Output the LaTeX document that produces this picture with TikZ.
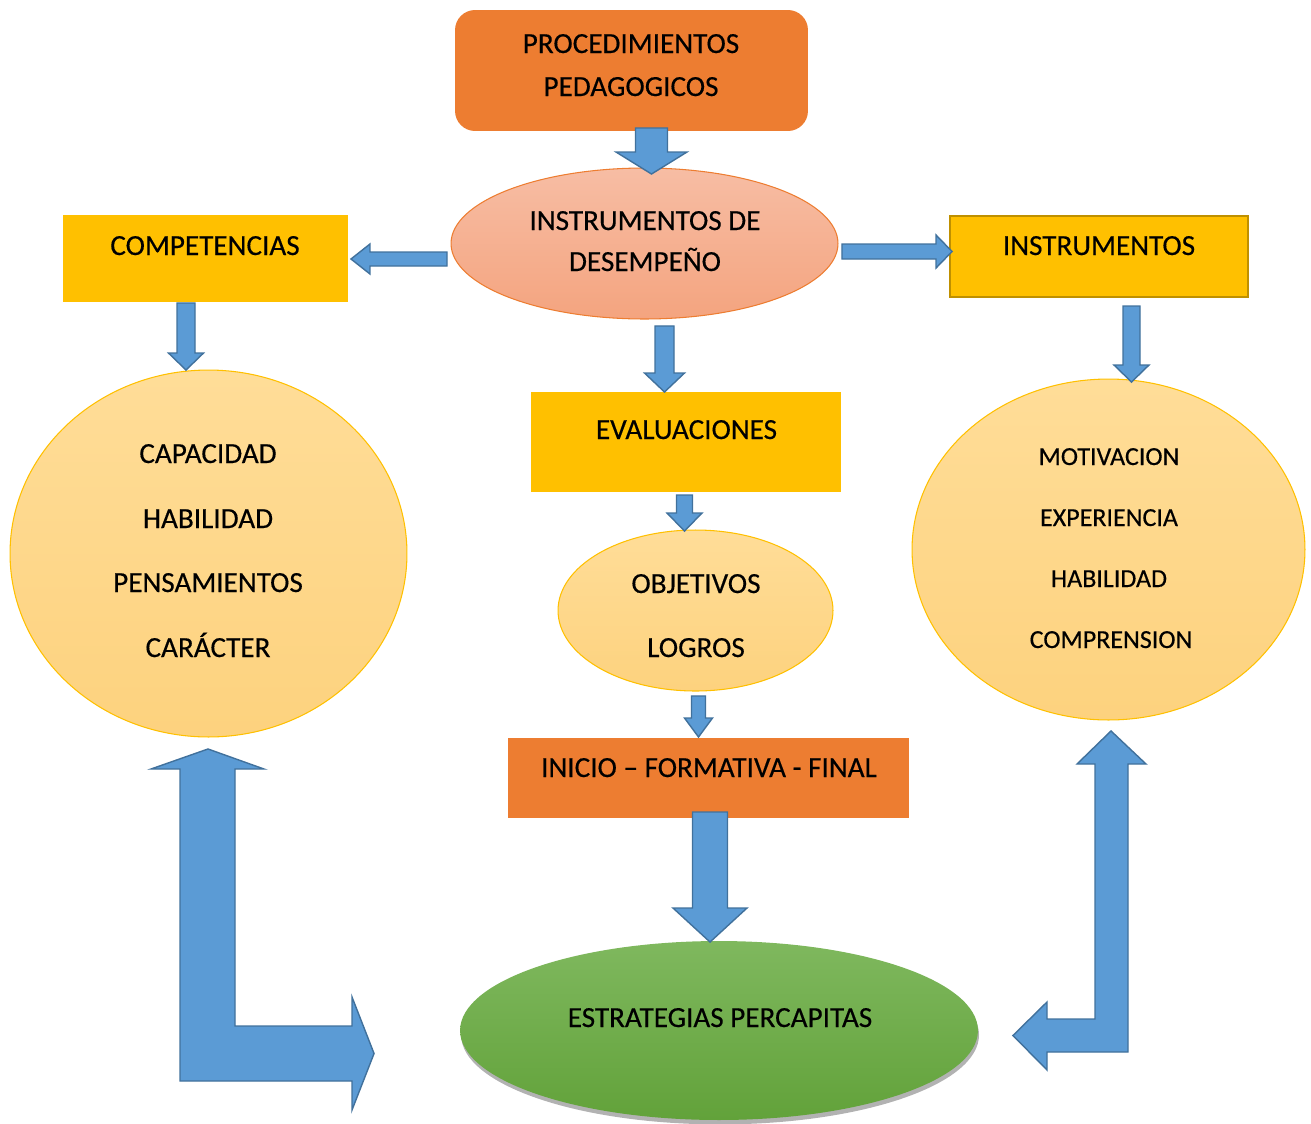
\documentclass[tikz,border=0pt]{standalone}
\usepackage{fontspec}
\setmainfont{Carlito}
\newfontfamily\lblfont[FakeBold=0.35]{Carlito}
\usetikzlibrary{shapes.geometric,calc,shadows}
\def\upx{0.569055pt}
\definecolor{orng}{HTML}{ED7D31}
\definecolor{gold}{HTML}{FFC000}
\definecolor{goldline}{HTML}{BF9000}
\definecolor{salTop}{HTML}{F7BDA4}
\definecolor{salBot}{HTML}{F4A47F}
\definecolor{ltTop}{HTML}{FFDD98}
\definecolor{ltBot}{HTML}{FDD27E}
\definecolor{grTop}{HTML}{7FB85E}
\definecolor{grBot}{HTML}{62A23A}
\definecolor{arrFill}{HTML}{5B9BD5}
\definecolor{arrDraw}{HTML}{41719C}
% block arrow: tail, tip, half shaft, half head, head length (px)
\newcommand\barrow[5]{%
  \coordinate (ba-n) at ($(#2)!{#5*\upx}!(#1)$);
  \path[blockarrow] ($(#1)!{#3*\upx}!90:(#2)$) -- ($(ba-n)!{#3*\upx}!90:(#2)$)
    -- ($(ba-n)!{#4*\upx}!90:(#2)$) -- (#2) -- ($(ba-n)!{#4*\upx}!-90:(#2)$)
    -- ($(ba-n)!{#3*\upx}!-90:(#2)$) -- ($(#1)!{#3*\upx}!-90:(#2)$) -- cycle;}
\begin{document}
\begin{tikzpicture}[x=0.02cm,y=-0.02cm,
  lbl/.style={font=\lblfont\fontsize{16.6}{19}\selectfont, anchor=base, inner sep=0pt, text=black},
  lblsm/.style={font=\lblfont\fontsize{14.8}{17}\selectfont, anchor=base, inner sep=0pt, text=black},
  shp/.style={inner sep=0pt, outer sep=0pt},
  orangebox/.style={shp, rectangle, fill=orng},
  goldbox/.style={shp, rectangle, fill=gold},
  salmonell/.style={shp, ellipse, top color=salTop, bottom color=salBot, draw=orng, line width=0.6pt},
  lightell/.style={shp, ellipse, top color=ltTop, bottom color=ltBot, draw=gold, line width=0.6pt},
  greenell/.style={shp, ellipse, top color=grTop, bottom color=grBot,
     drop shadow={shadow xshift=0.6pt, shadow yshift=-2.5pt, opacity=0.3, fill=black}},
  blockarrow/.style={fill=arrFill, draw=arrDraw, line width=0.8pt, line join=miter}]
\useasboundingbox (0,0) rectangle (1311,1123);

% shapes
\node[orangebox, rounded corners=11.4pt, minimum width={353*\upx}, minimum height={121*\upx}] (proc) at (631.5,70.5) {};
\node[salmonell, minimum width={387*\upx}, minimum height={151*\upx}] (desem) at (644.5,243.5) {};
\node[goldbox, minimum width={285*\upx}, minimum height={87*\upx}] (comp) at (205.5,258.5) {};
\node[goldbox, draw=goldline, line width=1.1pt, minimum width={298*\upx}, minimum height={81*\upx}] (inst) at (1099,256.5) {};
\node[lightell, minimum width={397*\upx}, minimum height={367*\upx}] (circL) at (208.5,553.5) {};
\node[lightell, minimum width={393*\upx}, minimum height={341*\upx}] (circR) at (1108.5,549.5) {};
\node[goldbox, minimum width={310*\upx}, minimum height={100*\upx}] (eval) at (686,442) {};
\node[lightell, minimum width={275*\upx}, minimum height={161*\upx}] (obj) at (695.5,610.5) {};
\node[orangebox, minimum width={401*\upx}, minimum height={80*\upx}] (ini) at (708.5,778) {};
\node[greenell, minimum width={518*\upx}, minimum height={179*\upx}] (estr) at (719,1030.5) {};

% texts
\node[lbl] (tproc1) at (631,53) {PROCEDIMIENTOS};
\node[lbl] (tproc2) at (631,96) {PEDAGOGICOS};
\node[lbl] (tdes1) at (645,230) {INSTRUMENTOS DE};
\node[lbl] (tdes2) at (645,271) {DESEMPEÑO};
\node[lbl] (tcomp) at (205,255) {COMPETENCIAS};
\node[lbl] (tinst) at (1099,255) {INSTRUMENTOS};
\node[lbl] (tL1) at (208,463) {CAPACIDAD};
\node[lbl] (tL2) at (208,528) {HABILIDAD};
\node[lbl] (tL3) at (208,592) {PENSAMIENTOS};
\node[lbl] (tL4) at (208,657) {CARÁCTER};
\node[lblsm] (tR1) at (1109,465) {MOTIVACION};
\node[lblsm] (tR2) at (1109,526) {EXPERIENCIA};
\node[lblsm] (tR3) at (1109,587) {HABILIDAD};
\node[lblsm] (tR4) at (1111,648) {COMPRENSION};
\node[lbl] (teval) at (686.5,439) {EVALUACIONES};
\node[lbl] (tobj1) at (696,593) {OBJETIVOS};
\node[lbl] (tobj2) at (696,657) {LOGROS};
\node[lbl] (tini) at (709,777) {INICIO – FORMATIVA - FINAL};
\node[lbl] (testr) at (720,1027) {ESTRATEGIAS PERCAPITAS};

% straight block arrows
\coordinate (t1) at ($(proc.south)+(20,-3)$);   \coordinate (h1) at ($(desem.north)+(7,6)$);
\barrow{t1}{h1}{16}{35.5}{22}
\coordinate (t2) at ($(desem.west)+(-4,15.5)$);  \coordinate (h2) at ($(comp.east)+(3,0.5)$);
\barrow{t2}{h2}{7}{15}{19}
\coordinate (t3) at ($(desem.east)+(4,8)$);      \coordinate (h3) at ($(inst.west)+(2,-5)$);
\barrow{t3}{h3}{7.5}{16.5}{16}
\coordinate (t4) at ($(comp.south)+(-19.5,1)$);  \coordinate (h4) at ($(circL.north)+(-22.5,0)$);
\barrow{t4}{h4}{9}{17.5}{17}
\coordinate (t5) at ($(inst.south)+(32.5,9)$);   \coordinate (h5) at ($(circR.north)+(23,3)$);
\barrow{t5}{h5}{8.5}{17.5}{17}
\coordinate (t6) at ($(desem.south)+(20,7)$);    \coordinate (h6) at ($(eval.north)+(-21.5,0)$);
\barrow{t6}{h6}{9.5}{20}{19}
\coordinate (t7) at ($(eval.south)+(-1.5,3)$);   \coordinate (h7) at ($(obj.north)+(-11,1)$);
\barrow{t7}{h7}{8}{17.5}{18}
\coordinate (t8) at ($(obj.south)+(3,5)$);       \coordinate (h8) at ($(ini.north)+(-10,-1)$);
\barrow{t8}{h8}{7}{14}{19}
\coordinate (t9) at ($(ini.south)+(1.5,-6)$);    \coordinate (h9) at ($(estr.north)+(-9,1)$);
\barrow{t9}{h9}{17.5}{37}{34}

% bent double arrows
\coordinate (Lup) at ($(circL.south)+(-0.5,12)$);
\coordinate (Lrt) at ($(estr.west)+(-86,23)$);
\path[blockarrow] (Lup) -- (264,769) -- (235,769) -- (235,1026) -- (352,1026) -- (352,997)
  -- (Lrt) -- (352,1110) -- (352,1081) -- (180,1081) -- (180,769) -- (151,769) -- cycle;
\coordinate (Rup) at ($(circR.south)+(2.5,11)$);
\coordinate (Rlt) at ($(estr.east)+(35,5)$);
\path[blockarrow] (Rup) -- (1146,764) -- (1128,764) -- (1128,1052) -- (1047,1052) -- (1047,1070)
  -- (Rlt) -- (1047,1002) -- (1047,1019) -- (1095,1019) -- (1095,764) -- (1077,764) -- cycle;
\end{tikzpicture}
\end{document}
